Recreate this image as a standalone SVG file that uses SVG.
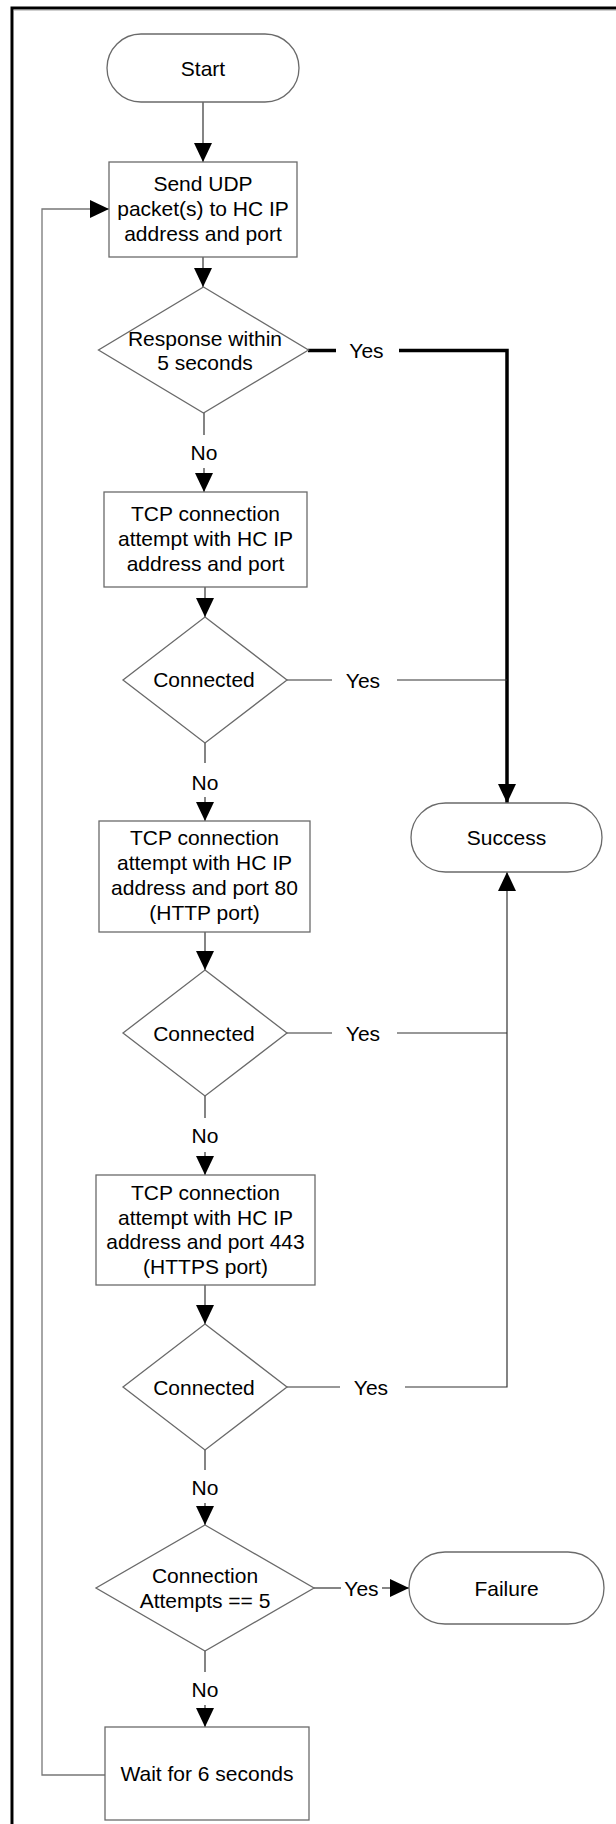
<svg xmlns="http://www.w3.org/2000/svg" width="616" height="1824" viewBox="0 0 616 1824">
<defs>
<marker id="ah" markerUnits="userSpaceOnUse" markerWidth="19" markerHeight="18" refX="19" refY="9" orient="auto" viewBox="0 0 19 18">
<path d="M0,0 L19,9 L0,18 z" fill="#000"/>
</marker>
</defs>
<style>
.shape{fill:#fff;stroke:#6a6a6a;stroke-width:1.3}
.t{font-family:"Liberation Sans",Arial,sans-serif;font-size:21px;fill:#000;text-anchor:middle}
.c{fill:none;stroke:#333;stroke-width:1.2}
.thick{fill:none;stroke:#000;stroke-width:3.5}
.loop{fill:none;stroke:#777;stroke-width:1.3}
</style>
<rect x="0" y="0" width="616" height="1824" fill="#fff"/>
<path d="M12,1824 V8 H616" fill="none" stroke="#000" stroke-width="3"/>
<path d="M13.5,1824 V10 H616" fill="none" stroke="#888" stroke-width="0.8"/>

<g id="connectors">
<line class="c" x1="203" y1="102" x2="203" y2="162" marker-end="url(#ah)"/>
<line class="c" x1="203" y1="257" x2="203" y2="287" marker-end="url(#ah)"/>
<line class="thick" x1="308" y1="350.5" x2="336" y2="350.5"/>
<path class="thick" d="M399,350.5 H507 V803" marker-end="url(#ah)"/>
<text class="t" x="366.5" y="358">Yes</text>
<line class="c" x1="204" y1="413" x2="204" y2="435"/>
<text class="t" x="204" y="459.5">No</text>
<line class="c" x1="204" y1="468" x2="204" y2="492" marker-end="url(#ah)"/>
<line class="c" x1="205" y1="587" x2="205" y2="617" marker-end="url(#ah)"/>
<line class="c" x1="287" y1="680" x2="332" y2="680"/>
<text class="t" x="363" y="687.5">Yes</text>
<line class="c" x1="397" y1="680" x2="507" y2="680"/>
<line class="c" x1="205" y1="743" x2="205" y2="763"/>
<text class="t" x="205" y="789.5">No</text>
<line class="c" x1="205" y1="797" x2="205" y2="821" marker-end="url(#ah)"/>
<line class="c" x1="205" y1="932" x2="205" y2="970" marker-end="url(#ah)"/>
<line class="c" x1="287" y1="1033" x2="332" y2="1033"/>
<text class="t" x="363" y="1040.5">Yes</text>
<line class="c" x1="397" y1="1033" x2="507" y2="1033"/>
<line class="c" x1="205" y1="1096" x2="205" y2="1118"/>
<text class="t" x="205" y="1142.5">No</text>
<line class="c" x1="205" y1="1152" x2="205" y2="1175" marker-end="url(#ah)"/>
<line class="c" x1="205" y1="1285" x2="205" y2="1324" marker-end="url(#ah)"/>
<line class="c" x1="287" y1="1387" x2="340" y2="1387"/>
<text class="t" x="371" y="1394.5">Yes</text>
<path class="c" d="M405,1387 H507 V872" marker-end="url(#ah)"/>
<line class="c" x1="205" y1="1450" x2="205" y2="1470"/>
<text class="t" x="205" y="1494.5">No</text>
<line class="c" x1="205" y1="1503" x2="205" y2="1525" marker-end="url(#ah)"/>
<line class="c" x1="314" y1="1588" x2="341" y2="1588"/>
<text class="t" x="361.5" y="1595.5">Yes</text>
<line class="c" x1="382" y1="1588" x2="409" y2="1588" marker-end="url(#ah)"/>
<line class="c" x1="205" y1="1651" x2="205" y2="1672"/>
<text class="t" x="205" y="1696.5">No</text>
<line class="c" x1="205" y1="1705" x2="205" y2="1727" marker-end="url(#ah)"/>
<path class="loop" d="M105,1775 H42 V209 H109" marker-end="url(#ah)"/>
</g>

<g id="start">
<rect class="shape" x="107" y="34" width="192" height="68" rx="34"/>
<text class="t" x="203" y="75.5">Start</text>
</g>
<g id="send_udp">
<rect class="shape" x="109" y="162" width="188" height="95"/>
<text class="t" x="203" y="190.5">Send UDP</text>
<text class="t" x="203" y="215.5">packet(s) to HC IP</text>
<text class="t" x="203" y="240.5">address and port</text>
</g>
<g id="response">
<polygon class="shape" points="203.5,287 308.5,350 203.5,413 98.5,350"/>
<text class="t" x="205" y="345.5">Response within</text>
<text class="t" x="205" y="369.5">5 seconds</text>
</g>
<g id="tcp1">
<rect class="shape" x="104" y="492" width="203" height="95"/>
<text class="t" x="205.5" y="520.5">TCP connection</text>
<text class="t" x="205.5" y="545.5">attempt with HC IP</text>
<text class="t" x="205.5" y="570.5">address and port</text>
</g>
<g id="connected1">
<polygon class="shape" points="205,617 287,680 205,743 123,680"/>
<text class="t" x="204" y="687">Connected</text>
</g>
<g id="tcp2">
<rect class="shape" x="99" y="821" width="211" height="111"/>
<text class="t" x="204.5" y="844.5">TCP connection</text>
<text class="t" x="204.5" y="870">attempt with HC IP</text>
<text class="t" x="204.5" y="895">address and port 80</text>
<text class="t" x="204.5" y="920">(HTTP port)</text>
</g>
<g id="connected2">
<polygon class="shape" points="205,970 287,1033 205,1096 123,1033"/>
<text class="t" x="204" y="1040.5">Connected</text>
</g>
<g id="tcp3">
<rect class="shape" x="96" y="1175" width="219" height="110"/>
<text class="t" x="205.5" y="1199.5">TCP connection</text>
<text class="t" x="205.5" y="1224.5">attempt with HC IP</text>
<text class="t" x="205.5" y="1248.5">address and port 443</text>
<text class="t" x="205.5" y="1274">(HTTPS port)</text>
</g>
<g id="connected3">
<polygon class="shape" points="205,1324 287,1387 205,1450 123,1387"/>
<text class="t" x="204" y="1394.5">Connected</text>
</g>
<g id="attempts">
<polygon class="shape" points="205,1525 314,1588 205,1651 96,1588"/>
<text class="t" x="205" y="1582.5">Connection</text>
<text class="t" x="205" y="1607.5">Attempts == 5</text>
</g>
<g id="success">
<rect class="shape" x="411" y="803" width="191" height="69" rx="34.5"/>
<text class="t" x="506.5" y="844.5">Success</text>
</g>
<g id="failure">
<rect class="shape" x="409" y="1552" width="195" height="72" rx="36"/>
<text class="t" x="506.5" y="1595.5">Failure</text>
</g>
<g id="wait">
<rect class="shape" x="105" y="1727" width="204" height="93"/>
<text class="t" x="207" y="1780.5">Wait for 6 seconds</text>
</g>
</svg>
